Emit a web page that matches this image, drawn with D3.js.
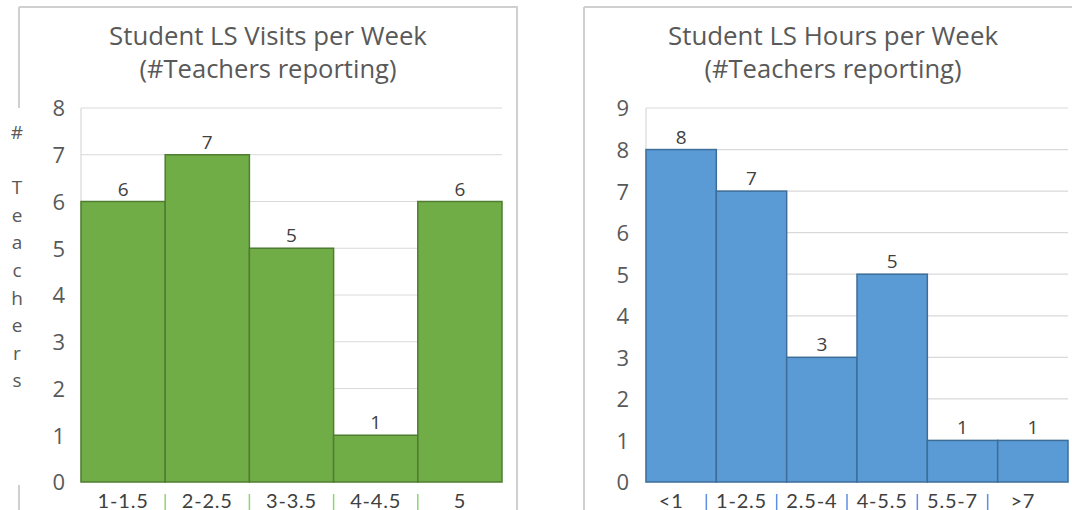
<!DOCTYPE html>
<html>
<head>
<meta charset="utf-8">
<script src="https://cdn.jsdelivr.net/npm/d3@7"></script>
<style>
  html, body { margin: 0; padding: 0; background: #fff; }
  svg { display: block; }
</style>
</head>
<body>
<svg id="chart" width="1072" height="510"></svg>
<script>
// Visits per week
const visitCategories = ["1-1.5", "2-2.5", "3-3.5", "4-4.5", "5"];
const visitCounts = [6, 7, 5, 1, 6];
const visitTicks = [0, 1, 2, 3, 4, 5, 6, 7, 8];

// Hours per week
const hourCategories = ["<1", "1-2.5", "2.5-4", "4-5.5", "5.5-7", ">7"];
const hourCounts = [8, 7, 3, 5, 1, 1];
const hourTicks = [0, 1, 2, 3, 4, 5, 6, 7, 8, 9];

const titleLines1 = ["Student LS Visits per Week", "(#Teachers reporting)"];
const titleLines2 = ["Student LS Hours per Week", "(#Teachers reporting)"];
const yTitle = "# Teachers";

const svg = d3.select("#chart");
const FONT = "'Open Sans', 'Noto Sans', sans-serif";
const LABEL_FONT = "Lato, 'Open Sans', sans-serif";

function fitText(sel, width) {
  const w = sel.node().getComputedTextLength();
  const fs = parseFloat(sel.attr("font-size"));
  sel.attr("font-size", (fs * width / w).toFixed(2));
}

function drawChart(o) {
  const g = svg.append("g");

  // chart frame
  const frame = g.append("g").attr("stroke", "#d0d0d0").attr("stroke-width", 2).attr("fill", "none");
  frame.append("line").attr("x1", o.frame[0]).attr("x2", o.frame[1]).attr("y1", 7).attr("y2", 7);
  o.frameSides.forEach(s => {
    frame.append("line").attr("x1", s.x).attr("x2", s.x).attr("y1", s.y0).attr("y2", s.y1);
  });

  const x = d3.scaleBand().domain(o.categories).range(o.xRange).padding(0);
  const y = d3.scaleLinear().domain([0, d3.max(o.ticks)]).range([482, 108]);

  // gridlines
  g.append("g").selectAll("line").data(o.ticks.filter(t => t > 0)).join("line")
    .attr("x1", o.xRange[0]).attr("x2", o.xRange[1])
    .attr("y1", d => y(d)).attr("y2", d => y(d))
    .attr("stroke", "#d9d9d9").attr("stroke-width", 1.2);

  // y axis line
  g.append("line").attr("x1", o.xRange[0]).attr("x2", o.xRange[0])
    .attr("y1", y.range()[1]).attr("y2", y.range()[0])
    .attr("stroke", "#d9d9d9").attr("stroke-width", 1.2);

  // y tick labels
  const yAxis = d3.axisLeft(y).tickValues(o.ticks).tickSize(0).tickPadding(0);
  const ya = g.append("g").attr("transform", `translate(${o.yLabelX},0)`).call(yAxis);
  ya.select(".domain").remove();
  ya.selectAll("text").attr("font-family", FONT).attr("font-size", 22)
    .attr("fill", "#595959").attr("dy", "0.36em");

  // bars
  g.append("g").selectAll("rect").data(o.values).join("rect")
    .attr("x", (d, i) => x(o.categories[i]))
    .attr("width", x.bandwidth())
    .attr("y", d => y(d))
    .attr("height", d => y(0) - y(d))
    .attr("fill", o.fill).attr("stroke", o.edge).attr("stroke-width", 1.5);

  // value labels
  g.append("g").selectAll("text").data(o.values).join("text")
    .attr("x", (d, i) => x(o.categories[i]) + x.bandwidth() / 2)
    .attr("y", d => y(d) - 6)
    .attr("text-anchor", "middle")
    .attr("font-family", FONT).attr("font-size", 19).attr("fill", "#404040")
    .text(d => d);

  // category labels
  g.append("g").selectAll("text").data(o.categories).join("text")
    .attr("x", d => x(d) + x.bandwidth() / 2 + o.labelShift)
    .attr("y", 508)
    .attr("text-anchor", "middle")
    .attr("font-family", LABEL_FONT).attr("font-size", 20).attr("letter-spacing", 0.8)
    .attr("fill", "#404040")
    .text(d => d);

  // separators between category labels
  g.append("g").selectAll("line").data(o.categories.slice(1)).join("line")
    .attr("x1", d => x(d) + o.labelShift).attr("x2", d => x(d) + o.labelShift)
    .attr("y1", 494).attr("y2", 510)
    .attr("stroke", o.sep).attr("stroke-width", 1.5);

  // title
  o.title.forEach((t, i) => {
    const tt = g.append("text")
      .attr("x", o.titleX).attr("y", 45 + i * 33)
      .attr("text-anchor", "middle")
      .attr("font-family", FONT).attr("font-size", 22).attr("fill", "#595959")
      .text(t);
    fitText(tt, o.titleWidths[i]);
  });
}

drawChart({
  categories: visitCategories, values: visitCounts, ticks: visitTicks,
  xRange: [81, 502], yLabelX: 65,
  fill: "#70ad47", edge: "#4f7d31", sep: "#92d36e", labelShift: 0,
  frame: [19, 518], frameSides: [{x: 19, y0: 7, y1: 108}, {x: 19, y0: 485, y1: 510}, {x: 517, y0: 7, y1: 510}],
  title: titleLines1, titleX: 268, titleWidths: [318, 257]
});

drawChart({
  categories: hourCategories, values: hourCounts, ticks: hourTicks,
  xRange: [646, 1068], yLabelX: 629,
  fill: "#5b9bd5", edge: "#3d6e99", sep: "#5b8fe0", labelShift: -10,
  frame: [584, 1072], frameSides: [{x: 584, y0: 7, y1: 510}],
  title: titleLines2, titleX: 833, titleWidths: [330, 257]
});

// vertical y-axis title, one character per line
const yt = svg.append("g").attr("font-family", FONT).attr("font-size", 19).attr("fill", "#595959");
yt.selectAll("text").data(Array.from(yTitle)).join("text")
  .attr("x", 17).attr("y", (d, i) => 139 + i * 27.6)
  .attr("text-anchor", "middle")
  .text(d => d);
</script>
</body>
</html>
